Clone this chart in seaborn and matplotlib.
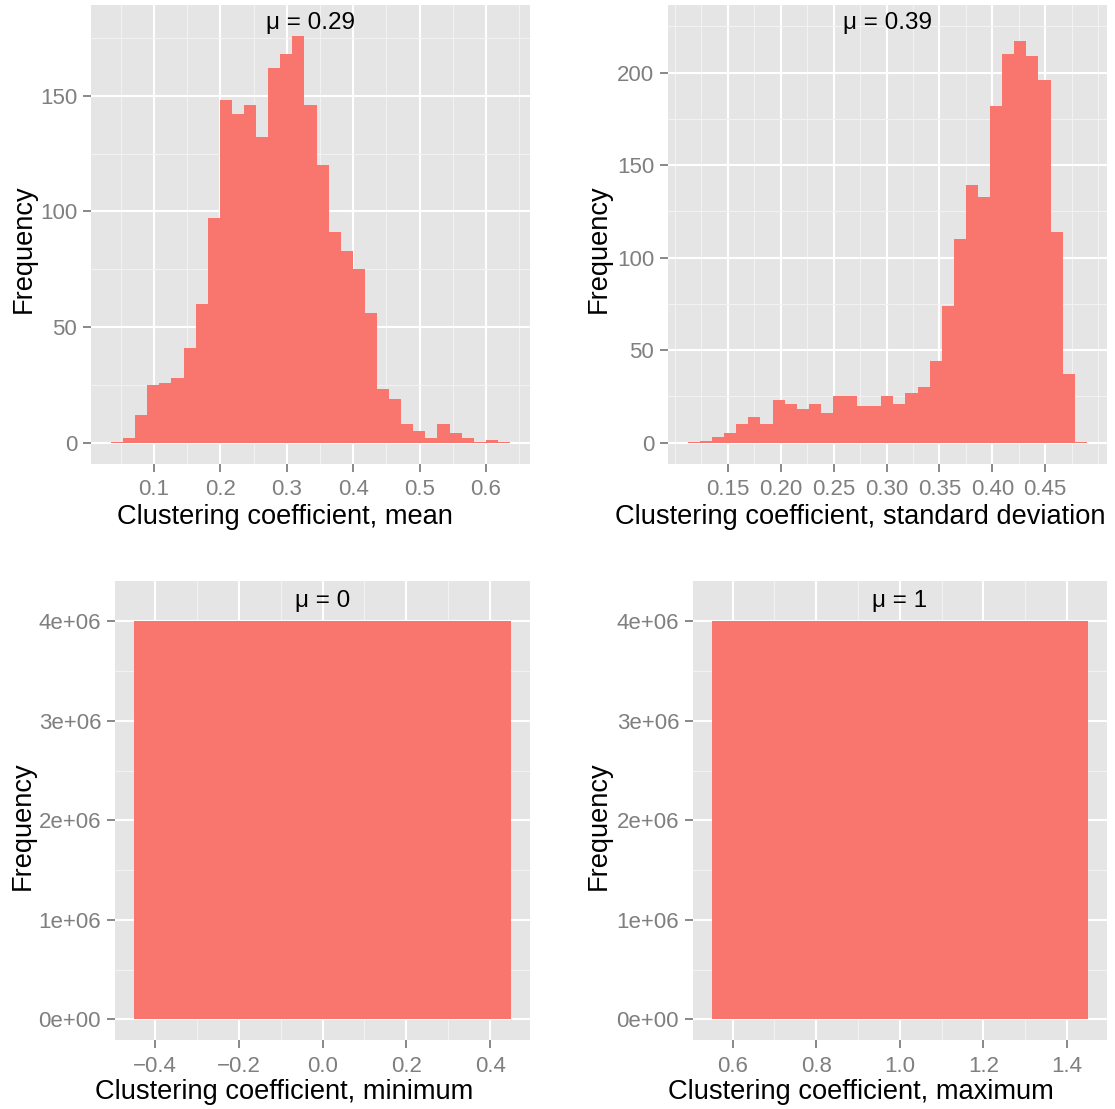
import numpy as np
import pandas as pd
import matplotlib
matplotlib.use("Agg")
import matplotlib.pyplot as plt
from matplotlib.ticker import AutoMinorLocator, FixedLocator, FuncFormatter
import seaborn as sns

# ---- data: binned counts of per-network clustering coefficient summaries ----
mean_counts = [0.5, 2, 12, 25, 26, 28, 41, 60, 97, 148, 142, 146, 132, 162, 168, 176,
               146, 120, 91, 83, 75, 56, 23, 19, 8, 5, 2, 8, 4, 2, 0.5, 1, 0.5]
mean_range = (0.0354, 0.6361)

sd_counts = [0.5, 1, 3, 5, 10, 14, 10, 23, 21, 18, 21, 16, 25, 25, 20, 20, 25, 21,
             27, 30, 44, 74, 110, 139, 133, 182, 210, 217, 209, 196, 114, 37, 0.5]
sd_range = (0.1123, 0.4893)

min_counts = [4.0e6]
min_range = (-0.45, 0.45)

max_counts = [4.0e6]
max_range = (0.55, 1.45)

mu_values = ["0.29", "0.39", "0", "1"]
x_titles = ["Clustering coefficient, mean",
            "Clustering coefficient, standard deviation",
            "Clustering coefficient, minimum",
            "Clustering coefficient, maximum"]

mean_xticks = [0.1, 0.2, 0.3, 0.4, 0.5, 0.6]
sd_xticks = [0.15, 0.20, 0.25, 0.30, 0.35, 0.40, 0.45]
min_xticks = [-0.4, -0.2, 0.0, 0.2, 0.4]
max_xticks = [0.6, 0.8, 1.0, 1.2, 1.4]
mean_yticks = [0, 50, 100, 150]
sd_yticks = [0, 50, 100, 150, 200]
big_yticks = [0, 1e6, 2e6, 3e6, 4e6]

# ---- style ----
sns.set_theme(style="darkgrid", rc={
    "axes.facecolor": "#E5E5E5",
    "grid.color": "white",
    "axes.edgecolor": "none",
    "figure.facecolor": "white",
})
plt.rcParams["font.family"] = ["Liberation Sans", "DejaVu Sans"]

BAR = "#F8766D"
TICK_GREY = "#7F7F7F"
W, H = 1115, 1109

fig = plt.figure(figsize=(W / 100, H / 100), dpi=100)


def panel(x0, x1, y0, y1):
    ax = fig.add_axes([x0 / W, 1 - y1 / H, (x1 - x0) / W, (y1 - y0) / H])
    ax._box = (x0, x1, y0, y1)
    return ax


def to_axes(ax, px, py):
    x0, x1, y0, y1 = ax._box
    return (px - x0) / (x1 - x0), (y1 - py) / (y1 - y0)


def fmt_num(decimals):
    def f(v, pos):
        return f"{v:.{decimals}f}".replace("-", "\u2212")
    return FuncFormatter(f)


def draw(ax, counts, rng, xticks, xdec, yticks, yfmt, ylim, mu, xtitle,
         xlab_px, ylab_px, mu_py):
    n = len(counts)
    edges = np.linspace(rng[0], rng[1], n + 1)
    df = pd.DataFrame({"value": (edges[:-1] + edges[1:]) / 2,
                       "count": np.asarray(counts, dtype=float)})
    sns.histplot(data=df, x="value", weights="count", bins=list(edges), ax=ax,
                 color=BAR, alpha=1, linewidth=0, antialiased=False)
    pad = 0.05 * (rng[1] - rng[0])
    ax.set_xlim(rng[0] - pad, rng[1] + pad)
    ax.set_ylim(*ylim)
    ax.xaxis.set_major_locator(FixedLocator(xticks))
    ax.xaxis.set_major_formatter(fmt_num(xdec))
    ax.yaxis.set_major_locator(FixedLocator(yticks))
    ax.yaxis.set_major_formatter(yfmt)
    ax.xaxis.set_minor_locator(AutoMinorLocator(2))
    ax.yaxis.set_minor_locator(AutoMinorLocator(2))
    ax.set_axisbelow(True)
    ax.grid(which="major", color="white", linewidth=1.5)
    ax.grid(which="minor", color="#F2F2F2", linewidth=0.8)
    ax.tick_params(which="major", length=6, width=1.3, color=TICK_GREY,
                   labelcolor=TICK_GREY, labelsize=16, pad=4,
                   bottom=True, left=True)
    ax.tick_params(axis="x", which="major", pad=5.5)
    ax.tick_params(which="minor", length=0)
    for s in ax.spines.values():
        s.set_visible(False)

    ax.set_xlabel(xtitle, fontsize=19.6, color="black", ha="center", va="center")
    ax.xaxis.set_label_coords(*to_axes(ax, *xlab_px))
    ax.set_ylabel("Frequency", fontsize=19.6, color="black", rotation=90,
                  rotation_mode="default", ha="center", va="center")
    ax.yaxis.set_label_coords(*to_axes(ax, *ylab_px))

    _, ty = to_axes(ax, 0, mu_py)
    ax.text(0.5, ty, "\u03bc = " + mu, transform=ax.transAxes, ha="center",
            va="center", fontsize=17.5, color="black")


yfmt_int = FuncFormatter(lambda v, p: f"{v:.0f}")
yfmt_sci = FuncFormatter(lambda v, p: f"{v:.0e}")

ax1 = panel(91, 530, 5, 463.5)
draw(ax1, mean_counts, mean_range, mean_xticks, 1, mean_yticks, yfmt_int,
     (-9.0, 189.2), mu_values[0], x_titles[0], (284.5, 517), (24, 249), 23)

ax2 = panel(668, 1106.7, 5, 463.5)
draw(ax2, sd_counts, sd_range, sd_xticks, 2, sd_yticks, yfmt_int,
     (-11.26, 236.5), mu_values[1], x_titles[1], (860, 517), (599, 249), 23)

ax3 = panel(115, 530, 581, 1040.2)
draw(ax3, min_counts, min_range, min_xticks, 1, big_yticks, yfmt_sci,
     (-0.21e6, 4.405e6), mu_values[2], x_titles[2], (284.5, 1092), (23, 826), 601)

ax4 = panel(693, 1106.7, 581, 1040.2)
draw(ax4, max_counts, max_range, max_xticks, 1, big_yticks, yfmt_sci,
     (-0.21e6, 4.405e6), mu_values[3], x_titles[3], (860.5, 1092), (599, 826), 601)

fig.savefig("out.png", dpi=100)
